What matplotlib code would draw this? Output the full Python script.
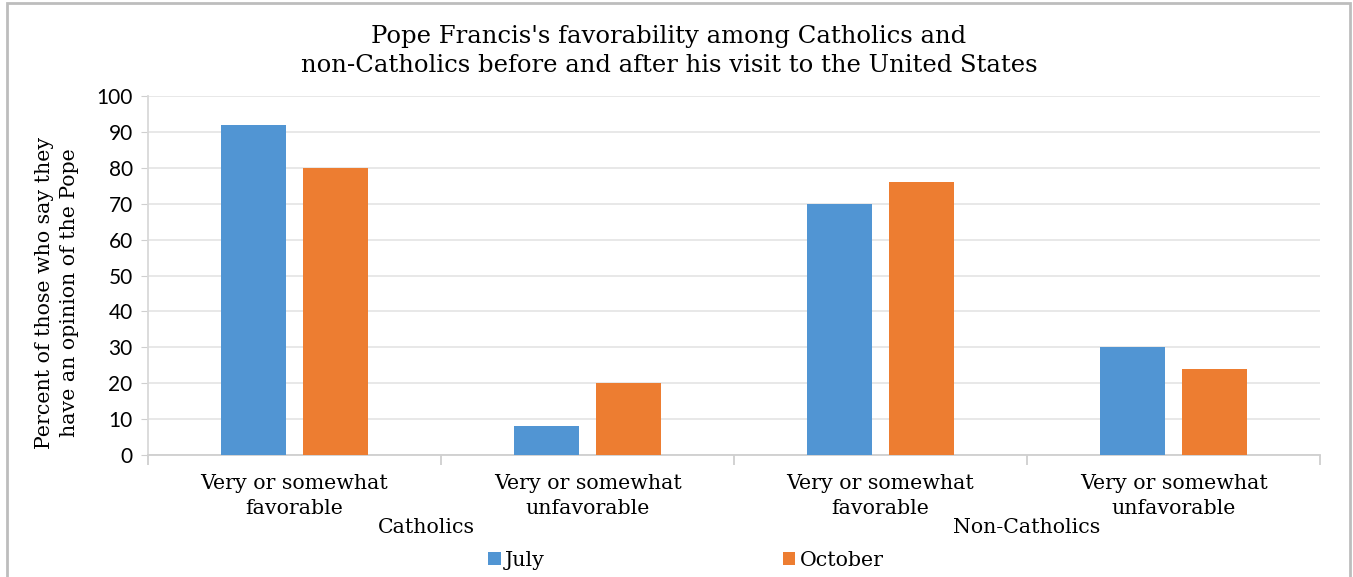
import numpy as np
import matplotlib.pyplot as plt
from matplotlib.patches import Rectangle

categories = ["Very or somewhat\nfavorable", "Very or somewhat\nunfavorable",
              "Very or somewhat\nfavorable", "Very or somewhat\nunfavorable"]
groups = ["Catholics", "Non-Catholics"]
july = [92, 8, 70, 30]
october = [80, 20, 76, 24]
yticks = list(range(0, 101, 10))

SERIF = "DejaVu Serif"
SANS = "Lato"
BLUE = "#5195d3"
ORANGE = "#ed7d31"
GRID = "#e6e6e6"

fig = plt.figure(figsize=(13.53, 5.77), dpi=100)
ax = fig.add_axes([148 / 1353, 122 / 577, 1172 / 1353, 359 / 577])

x = np.arange(len(categories))
w = 0.222
ax.bar(x - 0.14, july, w, color=BLUE, label="July", zorder=3)
ax.bar(x + 0.14, october, w, color=ORANGE, label="October", zorder=3)

ax.set_xlim(-0.5, len(categories) - 0.5)
ax.set_ylim(0, 100)
ax.set_yticks(yticks)
ax.set_yticklabels([str(v) for v in yticks], fontfamily=SANS, fontsize=15)
ax.yaxis.grid(True, color=GRID, linewidth=1.3, zorder=0)
ax.tick_params(axis="y", length=5, color="#cfcfcf", pad=6)

# category boundary ticks under the axis
ax.set_xticks(np.arange(-0.5, len(categories)))
ax.set_xticklabels([])
ax.tick_params(axis="x", length=7, color="#cfcfcf", width=1.3)

for side in ["top", "right"]:
    ax.spines[side].set_visible(False)
ax.spines["left"].set_color("#d9d9d9")
ax.spines["bottom"].set_color("#cfcfcf")
ax.spines["left"].set_linewidth(1.3)
ax.spines["bottom"].set_linewidth(1.3)

for xi, lab in zip(x, categories):
    ax.text(xi, -5.4, lab, ha="center", va="top", fontfamily=SERIF,
            fontsize=14.8, linespacing=1.35, clip_on=False)

ax.text(0.45, -17.6, groups[0], ha="center", va="top", fontfamily=SERIF,
        fontsize=14.8, clip_on=False)
ax.text(2.5, -17.6, groups[1], ha="center", va="top", fontfamily=SERIF,
        fontsize=14.8, clip_on=False)

fig.text(669 / 1353, 1 - 51 / 577,
         "Pope Francis's favorability among Catholics and\n"
         "non-Catholics before and after his visit to the United States",
         ha="center", va="center", fontfamily=SERIF, fontsize=17.5, linespacing=1.35)

fig.text(57 / 1353, 1 - 293 / 577,
         "Percent of those who say they\nhave an opinion of the Pope",
         ha="center", va="center", rotation=90, fontfamily=SERIF,
         fontsize=14.8, linespacing=1.4)

leg = fig.legend(loc="center", bbox_to_anchor=(686 / 1353, 1 - 560 / 577), ncol=2,
                 frameon=False, handlelength=0.6, handleheight=0.6,
                 handletextpad=0.2, columnspacing=11.6,
                 prop={"family": SERIF, "size": 14.8})

# outer chart frame
fig.patches.append(Rectangle((7 / 1353, -0.05), 1343 / 1353, 1.05 - 3 / 577,
                             transform=fig.transFigure, fill=False,
                             edgecolor="#bdbdbd", linewidth=2))

fig.savefig("out.png", dpi=100)
